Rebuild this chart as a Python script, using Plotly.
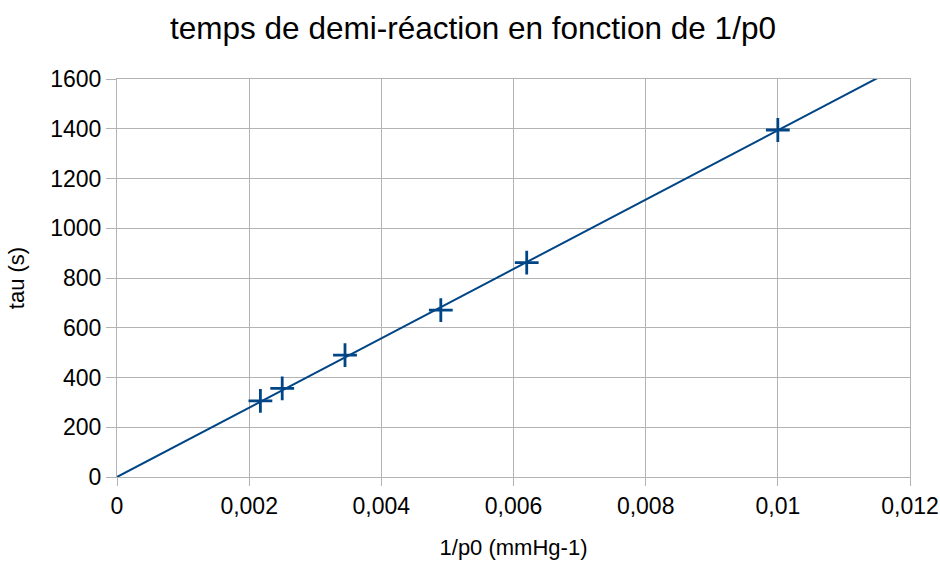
import numpy as np
import plotly.graph_objects as go

inv_p0 = [0.00217, 0.0025, 0.00345, 0.0049, 0.0062, 0.0100]
tau = [306, 356, 490, 671, 862, 1395]

x_tickvals = [0, 0.002, 0.004, 0.006, 0.008, 0.010, 0.012]
x_ticktext = ["0", "0,002", "0,004", "0,006", "0,008", "0,01", "0,012"]
y_tickvals = [0, 200, 400, 600, 800, 1000, 1200, 1400, 1600]

# linear trendline through origin (least squares)
xa = np.array(inv_p0)
ya = np.array(tau)
slope = float((xa * ya).sum() / (xa * xa).sum())
trend_x = [0, 0.012]
trend_y = [0, slope * 0.012]

blue = "#004586"
font = "Liberation Sans, Arial, sans-serif"

fig = go.Figure()
fig.add_trace(go.Scatter(x=trend_x, y=trend_y, mode="lines",
                         line=dict(color=blue, width=2), showlegend=False,
                         hoverinfo="skip"))
fig.add_trace(go.Scatter(x=inv_p0, y=tau, mode="markers",
                         marker=dict(symbol="cross-thin", size=17,
                                     line=dict(color=blue, width=2.8)),
                         showlegend=False))

W, H = 940, 563
fig.update_layout(
    width=W, height=H,
    margin=dict(l=117, r=30, t=79, b=86),
    paper_bgcolor="white", plot_bgcolor="white",
    font=dict(family=font, color="#000000"),
    title=dict(text="temps de demi-réaction en fonction de 1/p0",
               x=473 / W, xanchor="center", y=1 - 28 / H, yanchor="middle",
               font=dict(size=31.5, family=font, color="#000000")),
    xaxis=dict(range=[0, 0.012], tickvals=x_tickvals, ticktext=x_ticktext,
               showgrid=True, gridcolor="#b3b3b3", gridwidth=1,
               showline=True, linecolor="#b3b3b3", linewidth=1, mirror=True,
               ticks="outside", ticklen=8, tickcolor="#b3b3b3",
               tickfont=dict(size=23), zeroline=False, automargin=False,
               title=dict(text="1/p0 (mmHg-1)", font=dict(size=22), standoff=22)),
    yaxis=dict(range=[0, 1600], tickvals=y_tickvals,
               showgrid=True, gridcolor="#b3b3b3", gridwidth=1,
               showline=True, linecolor="#b3b3b3", linewidth=1, mirror=True,
               ticks="outside", ticklen=10, tickcolor="#b3b3b3",
               tickfont=dict(size=23), zeroline=False, automargin=False,
               title=dict(text="tau (s)", font=dict(size=22), standoff=19)),
)

fig.write_html("out.html",
               config={"displayModeBar": False},
               post_script="document.body.style.margin='0';document.body.style.overflow='hidden';")
